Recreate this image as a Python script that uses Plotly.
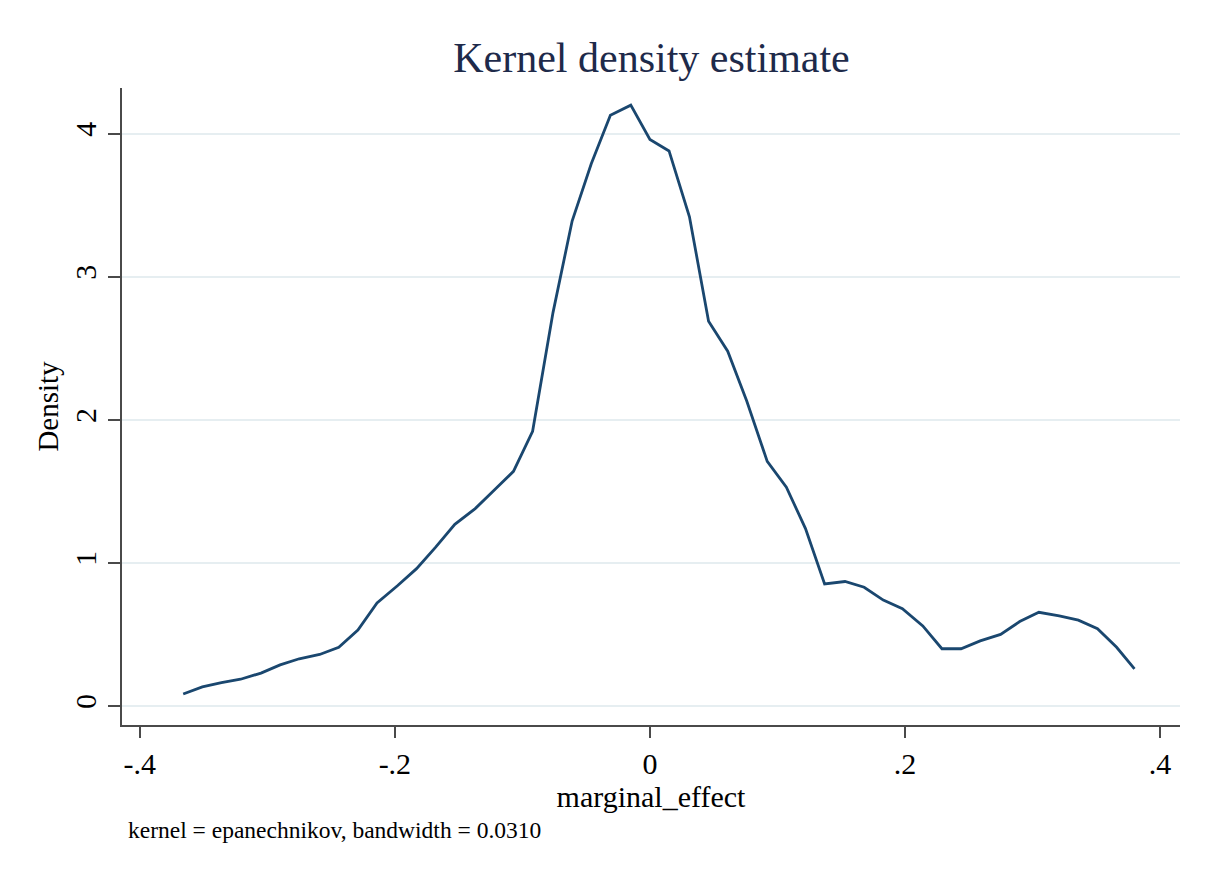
import plotly.graph_objects as go

# Data (kernel density estimate, 50 evaluation points)
marginal_effect = [
    -0.366, -0.351, -0.336, -0.321, -0.305, -0.290, -0.275, -0.259, -0.244, -0.229,
    -0.214, -0.198, -0.183, -0.168, -0.153, -0.137, -0.122, -0.107, -0.092, -0.076,
    -0.061, -0.046, -0.031, -0.015, 0.000, 0.015, 0.031, 0.046, 0.061, 0.076,
    0.092, 0.107, 0.122, 0.137, 0.153, 0.168, 0.183, 0.198, 0.214, 0.229,
    0.244, 0.259, 0.275, 0.290, 0.305, 0.321, 0.336, 0.351, 0.366, 0.380,
]
density = [
    0.084, 0.133, 0.163, 0.187, 0.230, 0.287, 0.330, 0.360, 0.410, 0.530,
    0.720, 0.840, 0.960, 1.110, 1.270, 1.380, 1.510, 1.640, 1.920, 2.750,
    3.390, 3.790, 4.130, 4.200, 3.960, 3.880, 3.420, 2.690, 2.480, 2.130,
    1.710, 1.530, 1.240, 0.853, 0.870, 0.830, 0.740, 0.680, 0.560, 0.400,
    0.400, 0.455, 0.500, 0.590, 0.655, 0.630, 0.600, 0.540, 0.410, 0.260,
]
x_tickvals = [-0.4, -0.2, 0, 0.2, 0.4]
x_ticktext = ["-.4", "-.2", "0", ".2", ".4"]
y_tickvals = [0, 1, 2, 3, 4]
y_ticktext = ["0", "1", "2", "3", "4"]

FONT = "Liberation Serif, Times New Roman, serif"
AXIS_COLOR = "#4a4a4a"
GRID_COLOR = "#e6eef1"

fig = go.Figure()
fig.add_trace(go.Scatter(
    x=marginal_effect, y=density, mode="lines",
    line=dict(color="#1a476f", width=2.8),
    showlegend=False, hoverinfo="x+y",
))

fig.update_layout(
    width=1207, height=877,
    margin=dict(l=122, r=27, t=88, b=152),
    paper_bgcolor="white", plot_bgcolor="white",
    font=dict(family=FONT, color="#000000"),
    title=dict(
        text="Kernel density estimate",
        font=dict(family=FONT, size=42, color="#1e2a4a"),
        x=(651.5) / 1207, xanchor="center", xref="container",
        y=1 - 57 / 877, yanchor="middle", yref="container",
    ),
    xaxis=dict(
        range=[-0.414, 0.4157],
        tickvals=x_tickvals, ticktext=x_ticktext,
        tickfont=dict(family=FONT, size=30, color="#000000"),
        ticks="outside", ticklen=11, tickwidth=2, tickcolor=AXIS_COLOR,
        showline=True, linecolor=AXIS_COLOR, linewidth=2,
        showgrid=False, zeroline=False,
        title=dict(text="marginal_effect", standoff=6,
                   font=dict(family=FONT, size=30, color="#000000")),
    ),
    yaxis=dict(
        range=[-0.133, 4.32],
        tickvals=y_tickvals, ticktext=y_ticktext,
        tickangle=-90,
        tickfont=dict(family=FONT, size=30, color="#000000"),
        ticks="outside", ticklen=12, tickwidth=2, tickcolor=AXIS_COLOR,
        showline=True, linecolor=AXIS_COLOR, linewidth=2,
        showgrid=True, gridcolor=GRID_COLOR, gridwidth=2,
        zeroline=False,
        title=dict(text="Density", standoff=2,
                   font=dict(family=FONT, size=29, color="#000000")),
    ),
    annotations=[
        dict(
            text="kernel = epanechnikov, bandwidth = 0.0310",
            xref="paper", yref="paper",
            x=(126 - 122) / (1180 - 122), y=-(830 - 725) / (725 - 88),
            xanchor="left", yanchor="middle", showarrow=False,
            font=dict(family=FONT, size=23.5, color="#000000"),
        )
    ],
)

fig.write_html("out.html")
